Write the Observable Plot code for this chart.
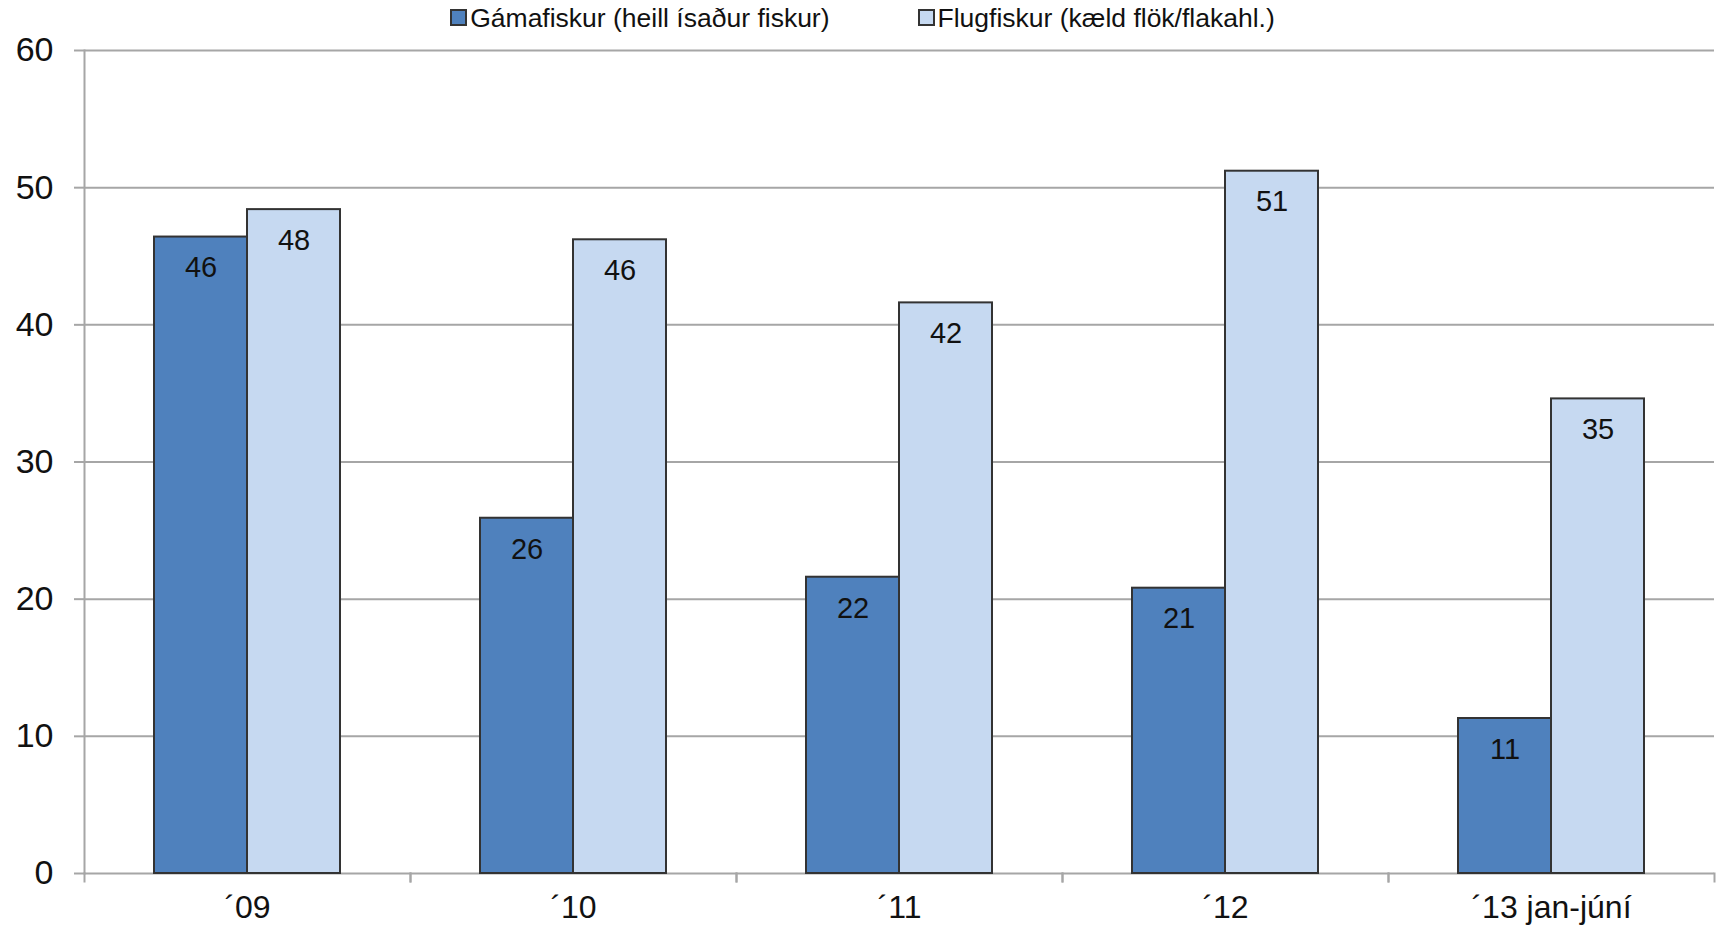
<!DOCTYPE html>
<html><head><meta charset="utf-8">
<script src="https://cdn.jsdelivr.net/npm/d3@7"></script>
<script src="https://cdn.jsdelivr.net/npm/@observablehq/plot@0.6"></script>
<style>
body{margin:0;background:#fff;font-family:"Liberation Sans",Arial,sans-serif;}
#legend{height:30px;box-sizing:border-box;padding-top:5px;display:flex;justify-content:center;align-items:center;gap:88px;font-size:26.5px;line-height:30px;color:#111;}
.item{display:flex;align-items:center;white-space:pre;height:30px;}
.sw{width:13px;height:13px;border:2px solid #333;margin-right:3px;}
</style></head><body>
<div id="legend"></div><div id="chart"></div>
<script>
const categories = ["´09","´10","´11","´12","´13 jan-júní"];
const seriesNames = ["Gámafiskur (heill ísaður fiskur)","Flugfiskur (kæld flök/flakahl.)"];
const gamaValues = [46.4, 25.9, 21.6, 20.8, 11.3];
const flugValues = [48.4, 46.2, 41.6, 51.2, 34.6];
const seriesColors = ["#4F81BD","#C6D9F1"];
const yTicks = [0,10,20,30,40,50,60];

const data = categories.flatMap((c,i)=>[
  {cat:c, series:seriesNames[0], value:gamaValues[i]},
  {cat:c, series:seriesNames[1], value:flugValues[i]}
]);

const legend = document.getElementById("legend");
seriesNames.forEach((s,i)=>{
  const it = document.createElement("div"); it.className="item";
  const sw = document.createElement("span"); sw.className="sw"; sw.style.background=seriesColors[i];
  it.appendChild(sw); it.appendChild(document.createTextNode(s));
  legend.appendChild(it);
});

const W = 1725, H = 900, mT = 20, mB = 57;
const chart = Plot.plot({
  width: W, height: H,
  marginTop: mT, marginBottom: mB, marginLeft: 83, marginRight: 11,
  style: {fontFamily:'"Liberation Sans", Arial, sans-serif', fontSize:"34px", color:"#111", background:"#fff", overflow:"visible"},
  fx: {domain: categories, padding: 0, label: null},
  x: {domain: seriesNames, paddingInner: 0, paddingOuter: 0.75, axis: null},
  y: {domain: [0,60], label: null},
  color: {domain: seriesNames, range: seriesColors},
  marks: [
    Plot.gridY(yTicks, {stroke:"#a6a6a6", strokeOpacity:1, strokeWidth:2}),
    Plot.axisY(yTicks, {tickSize:10, tickPadding:21, stroke:"#a6a6a6", strokeWidth:2, fill:"#111", fontSize:34, label:null}),
    Plot.frame({anchor:"left", facetAnchor:"left", stroke:"#a6a6a6", strokeWidth:2}),
    Plot.frame({anchor:"left", insetTop: H-mT-mB, insetBottom:-8, stroke:"#a6a6a6", strokeWidth:2}),
    Plot.frame({anchor:"right", insetTop: H-mT-mB, insetBottom:-8, stroke:"#a6a6a6", strokeWidth:2}),
    Plot.barY(data, {fx:"cat", x:"series", y:"value", fill:"series", stroke:"#333", strokeWidth:2}),
    Plot.text(data, {fx:"cat", x:"series", y:"value", text: d=>String(Math.round(d.value)), dy:31, fontSize:29, fill:"#111"}),
    Plot.axisFx({anchor:"bottom", tickSize:0, tickPadding:22, fontSize:32, fill:"#111", label:null})
  ]
});
document.getElementById("chart").appendChild(chart);
</script>
</body></html>
